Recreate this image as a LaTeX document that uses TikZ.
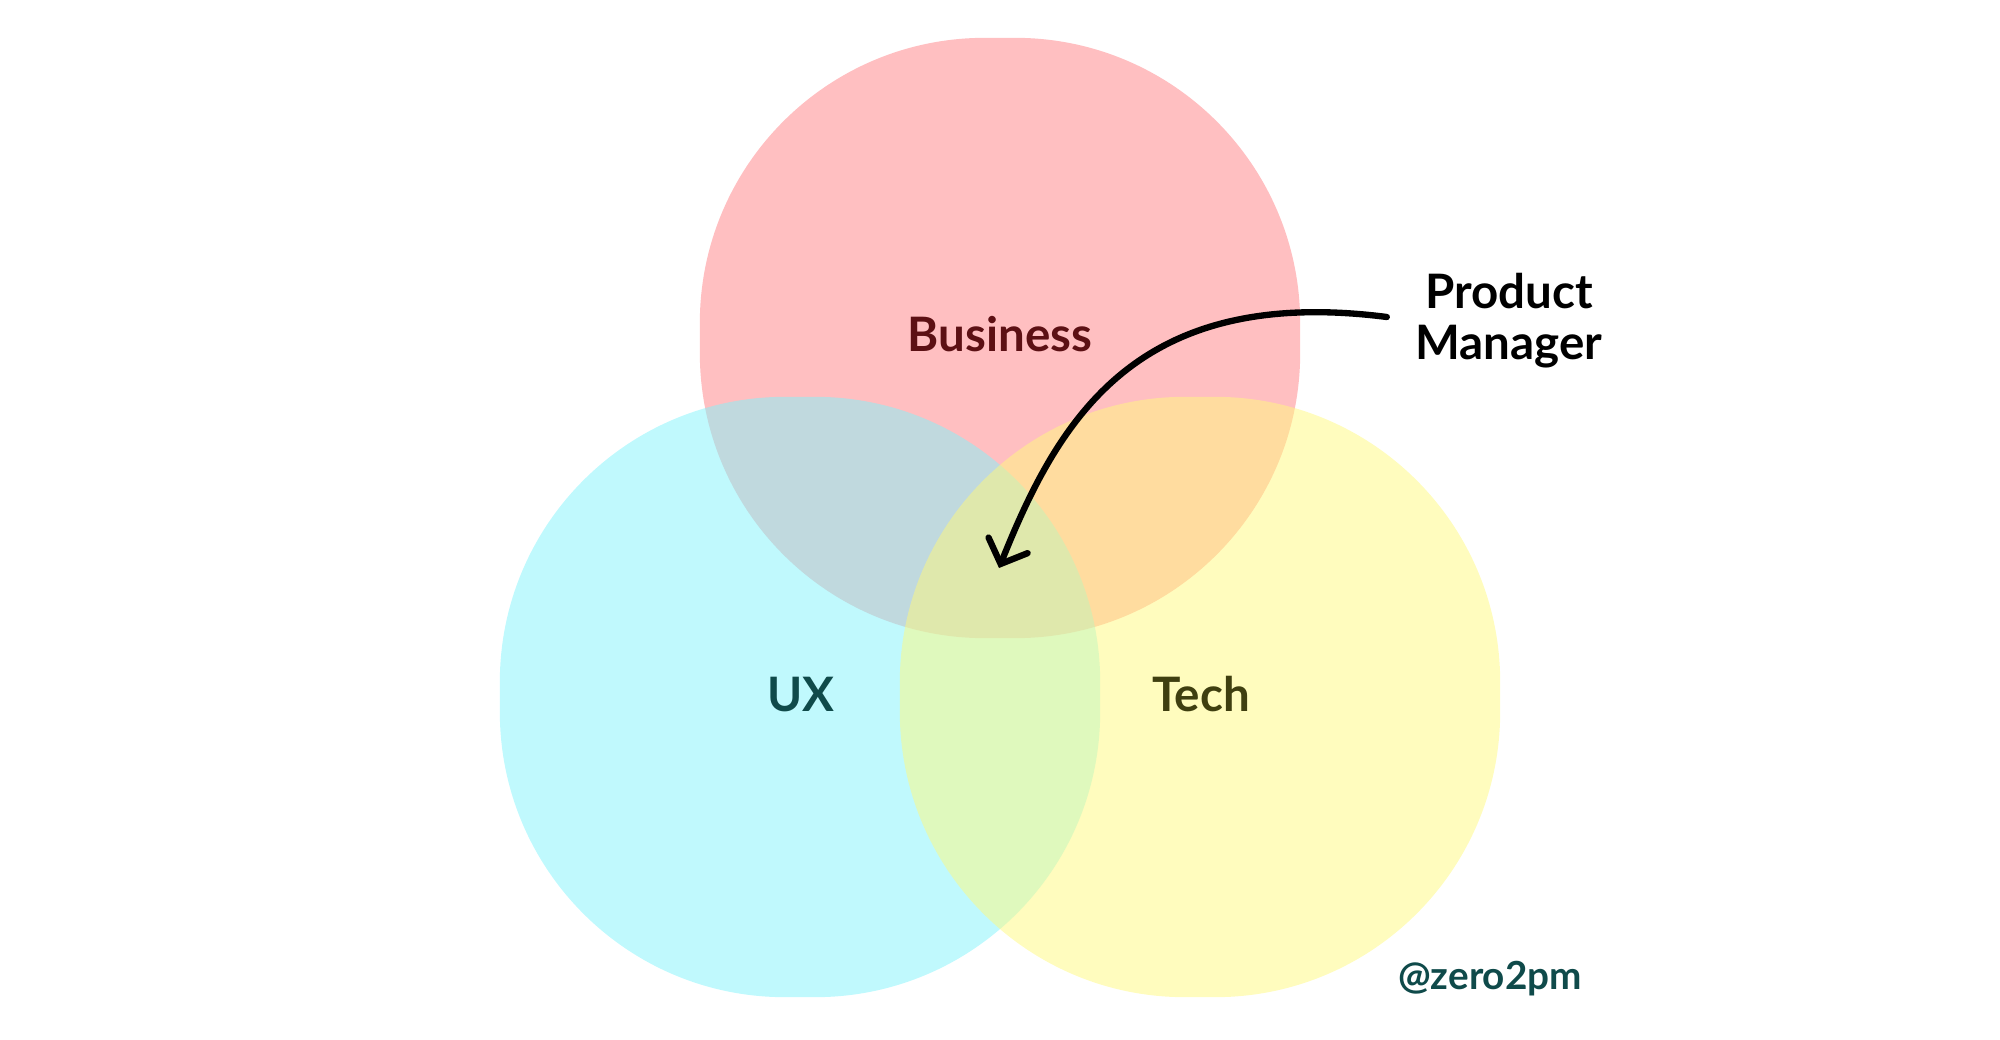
\documentclass[tikz,border=0pt]{standalone}
\usepackage{fontspec}
\setmainfont{Lato}
\usetikzlibrary{arrows.meta}
\definecolor{bizfill}{HTML}{FF7F83}
\definecolor{uxfill}{HTML}{81F3FB}
\definecolor{techfill}{HTML}{FFF97D}
\definecolor{biztext}{HTML}{5C1014}
\definecolor{uxtext}{HTML}{0F4A4A}
\definecolor{techtext}{HTML}{3F3F10}
\begin{document}
\begin{tikzpicture}[x=0.01cm,y=-0.01cm,
  setbox/.style={rectangle, rounded corners=2.85cm, minimum width=6cm, minimum height=6cm, inner sep=0pt, fill opacity=0.5, draw=none},
  lbl/.style={font=\fontsize{13.5pt}{14.5pt}\selectfont\bfseries, inner sep=0pt},
  pmarrow/.style={line width=1.8pt, line cap=round, line join=round, -{Straight Barb[length=2mm,width=4.2mm,line cap=round]}}]
\path[use as bounding box] (0,0) rectangle (2000,1040);
\node[setbox, fill=bizfill] (biz) at (1000,338) {};
\node[setbox, fill=uxfill] (ux) at (800,697) {};
\node[setbox, fill=techfill] (tech) at (1200,697) {};
\node[lbl, text=biztext] (bizlbl) at (1000,334) {Business};
\node[lbl, text=uxtext] (uxlbl) at (801,695) {UX};
\node[lbl, text=techtext] (techlbl) at (1201,694) {Tech};
\node[lbl, text=black, align=center] (pm) at (1509,321) {Product\\Manager};
\node[font=\fontsize{11pt}{12pt}\selectfont\bfseries, inner sep=0pt, text=uxtext] (handle) at (1490,979) {@zero2pm};
\coordinate (pmstart) at ([xshift=-0.28cm,yshift=0.04cm]pm.west);
\coordinate (pmtip) at (999,568);
\draw[pmarrow] (pmstart) .. controls +(-250,-32) and (1059,418) .. (pmtip);
\end{tikzpicture}
\end{document}
